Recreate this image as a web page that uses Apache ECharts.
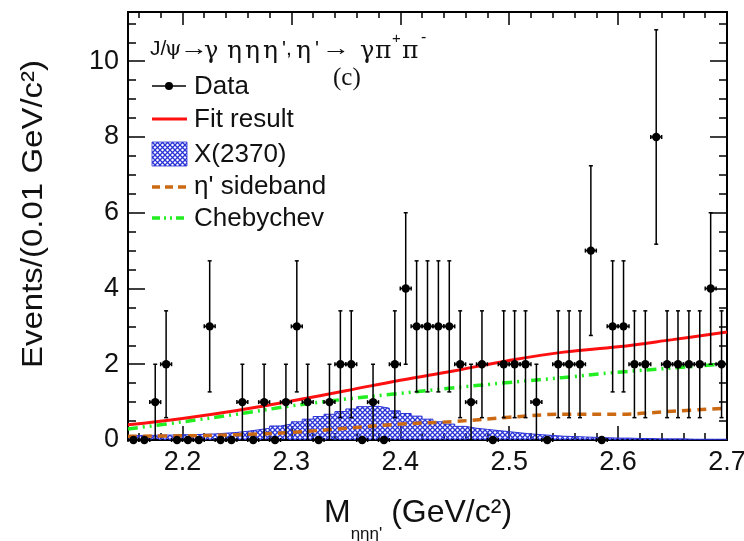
<!DOCTYPE html>
<html>
<head>
<meta charset="utf-8">
<script src="https://cdn.jsdelivr.net/npm/echarts@6/dist/echarts.min.js"></script>
<style>
  html, body { margin: 0; padding: 0; background: #fff; }
  #chart { width: 744px; height: 541px; }
</style>
</head>
<body>
<div id="chart"></div>
<script>
  // bin centres, 0.01 GeV/c^2 bins
  var massBins = [2.155, 2.165, 2.175, 2.185, 2.195, 2.205, 2.215, 2.225, 2.235, 2.245,
    2.255, 2.265, 2.275, 2.285, 2.295, 2.305, 2.315, 2.325, 2.335, 2.345,
    2.355, 2.365, 2.375, 2.385, 2.395, 2.405, 2.415, 2.425, 2.435, 2.445,
    2.455, 2.465, 2.475, 2.485, 2.495, 2.505, 2.515, 2.525, 2.535, 2.545,
    2.555, 2.565, 2.575, 2.585, 2.595, 2.605, 2.615, 2.625, 2.635, 2.645,
    2.655, 2.665, 2.675, 2.685, 2.695];
  var counts = [0, 0, 1, 2, 0, 0, 0, 3, 0, 0,
    1, 0, 1, 0, 1, 3, 1, 0, 1, 2,
    2, 0, 1, 0, 2, 4, 3, 3, 3, 3,
    2, 1, 2, 0, 2, 2, 2, 1, 0, 2,
    2, 2, 5, 0, 3, 3, 2, 2, 8, 2,
    2, 2, 2, 4, 2];
  var countErr = [0, 0, 1, 1.41, 0, 0, 0, 1.73, 0, 0,
    1, 0, 1, 0, 1, 1.73, 1, 0, 1, 1.41,
    1.41, 0, 1, 0, 1.41, 2, 1.73, 1.73, 1.73, 1.73,
    1.41, 1, 1.41, 0, 1.41, 1.41, 1.41, 1, 0, 1.41,
    1.41, 1.41, 2.24, 0, 1.73, 1.73, 1.41, 1.41, 2.83, 1.41,
    1.41, 1.41, 1.41, 2, 1.41];
  // X(2370) component, per bin
  var x2370 = [0.12, 0.12, 0.13, 0.13, 0.14, 0.14, 0.15, 0.16, 0.18, 0.2,
    0.23, 0.27, 0.31, 0.37, 0.42, 0.48, 0.55, 0.62, 0.68, 0.75,
    0.82, 0.88, 0.89, 0.84, 0.77, 0.7, 0.63, 0.55, 0.48, 0.42,
    0.36, 0.31, 0.28, 0.25, 0.22, 0.19, 0.16, 0.14, 0.12, 0.1,
    0.09, 0.08, 0.07, 0.06, 0.05, 0.05, 0.04, 0.04, 0.03, 0.03,
    0.03, 0.02, 0.02, 0.02, 0.02];
  // smooth curves
  var curveX = [2.15, 2.2, 2.25, 2.3, 2.35, 2.4, 2.45, 2.5, 2.55, 2.6, 2.65, 2.7];
  var fitResult = [0.4, 0.57, 0.78, 1.03, 1.3, 1.58, 1.83, 2.1, 2.32, 2.46, 2.65, 2.85];
  var chebychev = [0.29, 0.48, 0.68, 0.9, 1.08, 1.23, 1.38, 1.52, 1.65, 1.79, 1.9, 2.01];
  var sideband = [0.1, 0.11, 0.14, 0.2, 0.31, 0.42, 0.49, 0.6, 0.68, 0.68, 0.76, 0.84];
  // ticks
  var xMajor = [2.2, 2.3, 2.4, 2.5, 2.6, 2.7];
  var xMinor = [2.16, 2.18, 2.22, 2.24, 2.26, 2.28, 2.32, 2.34, 2.36, 2.38, 2.42, 2.44, 2.46, 2.48,
    2.52, 2.54, 2.56, 2.58, 2.62, 2.64, 2.66, 2.68];
  var yMajor = [0, 2, 4, 6, 8, 10];
  var yMinor = [0.5, 1, 1.5, 2.5, 3, 3.5, 4.5, 5, 5.5, 6.5, 7, 7.5, 8.5, 9, 9.5, 10.5, 11];

  var binWidth = 0.01;
  var FONT = 'Liberation Sans';
  var SERIF = 'Liberation Serif';
  var GREEK = 'DejaVu Serif';

  // cross hatch for X(2370)
  function hatch() {
    var c = document.createElement('canvas');
    c.width = 5; c.height = 5;
    var g = c.getContext('2d');
    g.strokeStyle = '#2a33d6';
    g.lineWidth = 1.3;
    g.beginPath();
    g.moveTo(0, 0); g.lineTo(5, 5);
    g.moveTo(5, 0); g.lineTo(0, 5);
    g.stroke();
    return c;
  }
  var hatchFill = { image: hatch(), repeat: 'repeat' };

  var stepData = [];
  for (var i = 0; i < massBins.length; i++) {
    stepData.push([massBins[i] - binWidth / 2, x2370[i]]);
    stepData.push([massBins[i] + binWidth / 2, x2370[i]]);
  }
  function pairs(ys) {
    return curveX.map(function (x, i) { return [x, ys[i]]; });
  }
  var pointData = massBins.map(function (m, i) { return [m, counts[i], countErr[i]]; });

  function xAx(pos, ticks, len, labels) {
    return {
      type: 'value', position: pos, min: 2.15, max: 2.7,
      axisLine: { show: true, onZero: false, lineStyle: { color: '#000', width: 2 } },
      axisTick: { show: true, inside: true, length: len, customValues: ticks, lineStyle: { color: '#000', width: 1.5 } },
      axisLabel: labels ? {
        show: true, customValues: xMajor, margin: 9, color: '#111', fontFamily: FONT, fontSize: 27,
        formatter: function (v) { return v.toFixed(1); }
      } : { show: false },
      splitLine: { show: false }
    };
  }
  function yAx(pos, ticks, len, labels) {
    return {
      type: 'value', position: pos, min: 0, max: 11.3,
      axisLine: { show: true, onZero: false, lineStyle: { color: '#000', width: 2 } },
      axisTick: { show: true, inside: true, length: len, customValues: ticks, lineStyle: { color: '#000', width: 1.5 } },
      axisLabel: labels ? {
        show: true, customValues: yMajor, margin: 9, color: '#111', fontFamily: FONT, fontSize: 27
      } : { show: false },
      splitLine: { show: false }
    };
  }

  // title pieces: [text, x, family, size, y, scaleX]
  var titleParts = [
    ['J/', 150, FONT, 21, 49, 1],
    ['ψ', 165, GREEK, 21, 50, 1],
    ['→', 180, FONT, 21, 49, 1.35],
    ['γ', 204, GREEK, 24, 52, 1],
    ['η', 227, GREEK, 25, 51, 1],
    ['η', 245, GREEK, 25, 51, 1],
    ['η', 263, GREEK, 25, 51, 1],
    ['\',', 282, FONT, 21, 49, 1],
    ['η', 296, GREEK, 25, 51, 1],
    ['\'', 315, FONT, 21, 49, 1],
    ['→', 322, FONT, 21, 49, 1.35],
    ['γ', 360, GREEK, 24, 52, 1],
    ['π', 375, GREEK, 25, 51, 1],
    ['+', 392, FONT, 15, 39, 1],
    ['π', 402, GREEK, 25, 51, 1],
    ['-', 421, FONT, 16, 38, 1]
  ];
  var titleGraphics = titleParts.map(function (p) {
    return {
      type: 'text', x: p[1], y: p[4], scaleX: p[5], z: 10,
      style: { text: p[0], fontFamily: p[2], fontSize: p[3], fill: '#111', verticalAlign: 'middle', align: 'left' }
    };
  });

  var legendText = function (txt, y) {
    return { type: 'text', z: 10, x: 194, y: y, style: { text: txt, fontFamily: FONT, fontSize: 26, fill: '#111', verticalAlign: 'middle' } };
  };

  var myChart = echarts.init(document.getElementById('chart'), null, { renderer: 'canvas' });
  myChart.setOption({
    animation: false,
    backgroundColor: '#fff',
    grid: { left: 128, right: 17, top: 12, bottom: 101, containLabel: false, outerBoundsMode: 'none' },
    xAxis: [xAx('bottom', xMajor, 14, true), xAx('bottom', xMinor, 7, false), xAx('top', xMajor, 13, false), xAx('top', xMinor, 6, false)],
    yAxis: [yAx('left', yMajor, 17, true), yAx('left', yMinor, 8, false), yAx('right', yMajor, 17, false), yAx('right', yMinor, 8, false)],
    series: [
      {
        name: 'X(2370)', type: 'line', data: stepData, symbol: 'none', z: 1,
        lineStyle: { color: '#2a33d6', width: 1 },
        areaStyle: { color: hatchFill, opacity: 1 }
      },
      {
        name: "η' sideband", type: 'line', data: pairs(sideband), smooth: 0.4, symbol: 'none', z: 2,
        lineStyle: { color: '#cc6a14', width: 3.5, type: [9, 6] }
      },
      {
        name: 'Chebychev', type: 'line', data: pairs(chebychev), smooth: 0.4, symbol: 'none', z: 3,
        lineStyle: { color: '#22ee22', width: 3.5, type: [10, 5, 2, 5, 2, 5] }
      },
      {
        name: 'Fit result', type: 'line', data: pairs(fitResult), smooth: 0.4, symbol: 'none', z: 4,
        lineStyle: { color: '#ff1010', width: 3 }
      },
      {
        name: 'Data', type: 'custom', z: 5, data: pointData,
        renderItem: function (params, api) {
          var x = api.value(0), y = api.value(1), e = api.value(2);
          var c = api.coord([x, y]);
          var l = api.coord([x - binWidth / 2, y]), r = api.coord([x + binWidth / 2, y]);
          var st = { stroke: '#000', lineWidth: 1.5 };
          var kids = [
            { type: 'line', shape: { x1: l[0], y1: c[1], x2: r[0], y2: c[1] }, style: st },
            { type: 'line', shape: { x1: l[0], y1: c[1] - 2, x2: l[0], y2: c[1] + 2 }, style: st },
            { type: 'line', shape: { x1: r[0], y1: c[1] - 2, x2: r[0], y2: c[1] + 2 }, style: st }
          ];
          if (e > 0) {
            var t = api.coord([x, y + e]), b = api.coord([x, Math.max(y - e, 0)]);
            kids.push({ type: 'line', shape: { x1: c[0], y1: t[1], x2: c[0], y2: b[1] }, style: st });
            kids.push({ type: 'line', shape: { x1: c[0] - 2, y1: t[1], x2: c[0] + 2, y2: t[1] }, style: st });
            kids.push({ type: 'line', shape: { x1: c[0] - 2, y1: b[1], x2: c[0] + 2, y2: b[1] }, style: st });
          }
          kids.push({ type: 'circle', shape: { cx: c[0], cy: c[1], r: 4.2 }, style: { fill: '#000' } });
          return { type: 'group', children: kids };
        }
      }
    ],
    graphic: titleGraphics.concat([
      { type: 'text', x: 333, y: 78, z: 10, style: { text: '(c)', fontFamily: SERIF, fontSize: 25, fill: '#111', verticalAlign: 'middle' } },
      // axis titles
      {
        type: 'text', x: 34, y: 214, rotation: Math.PI / 2, scaleX: 1.1, z: 10,
        style: { text: 'Events/(0.01 GeV/c²)', fontFamily: FONT, fontSize: 30, fill: '#111', align: 'center', verticalAlign: 'middle' }
      },
      {
        type: 'text', x: 324, y: 520, z: 10,
        style: {
          text: '{m|M}{s|ηηη\'}{m| (GeV/c²)}', align: 'left', verticalAlign: 'middle',
          rich: {
            m: { fontFamily: FONT, fontSize: 32, fill: '#111', verticalAlign: 'top', lineHeight: 34 },
            s: { fontFamily: FONT, fontSize: 17, fill: '#111', verticalAlign: 'bottom', lineHeight: 46 }
          }
        }
      },
      // legend: Data
      { type: 'line', z: 10, shape: { x1: 152, y1: 86, x2: 186, y2: 86 }, style: { stroke: '#000', lineWidth: 1.5 } },
      { type: 'circle', z: 10, shape: { cx: 169, cy: 86, r: 4 }, style: { fill: '#000' } },
      legendText('Data', 87),
      // Fit result
      { type: 'line', z: 10, shape: { x1: 152, y1: 119, x2: 187, y2: 119 }, style: { stroke: '#ff1010', lineWidth: 3 } },
      legendText('Fit result', 120),
      // X(2370)
      { type: 'rect', z: 10, shape: { x: 152, y: 142, width: 35, height: 24 }, style: { fill: hatchFill, stroke: '#2a33d6', lineWidth: 0.8 } },
      legendText('X(2370)', 155),
      // sideband
      { type: 'line', z: 10, shape: { x1: 152, y1: 187, x2: 187, y2: 187 }, style: { stroke: '#cc6a14', lineWidth: 3.5, lineDash: [8, 5] } },
      legendText("η' sideband", 187),
      // Chebychev
      { type: 'line', z: 10, shape: { x1: 152, y1: 218, x2: 187, y2: 218 }, style: { stroke: '#22ee22', lineWidth: 3.5, lineDash: [8, 4, 2, 4, 2, 4] } },
      legendText('Chebychev', 219)
    ])
  });
</script>
</body>
</html>
